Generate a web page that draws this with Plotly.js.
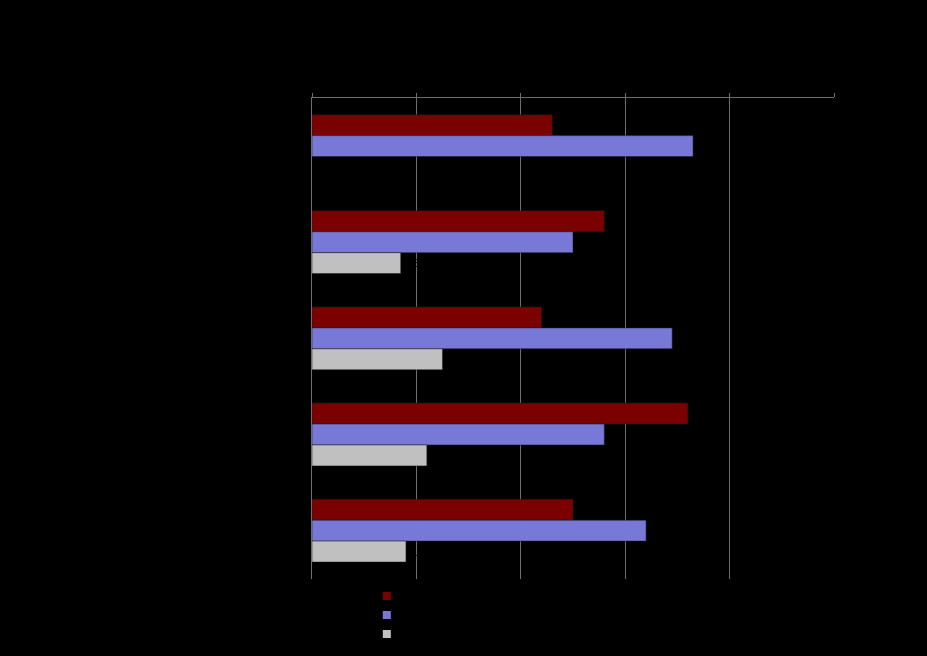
<!doctype html>
<html>
<head>
  <meta charset="utf-8">
  <title>Bar chart</title>
  <script src="https://cdn.plot.ly/plotly-3.0.1.min.js"></script>
  <style>
    body { margin: 0; background-color: black; }
  </style>
</head>
<body>
  <div id="chart" style="width:927px;height:656px;"></div>
  <script>
    // chart data
    var categories = ['Group 1', 'Group 2', 'Group 3', 'Group 4', 'Group 5'];
    var seriesNames = ['Series 1', 'Series 2', 'Series 3'];
    var series1 = [2.3, 2.8, 2.2, 3.6, 2.5];
    var series2 = [3.65, 2.5, 3.45, 2.8, 3.2];
    var series3 = [null, 0.85, 1.25, 1.1, 0.9];
    var xTicks = [0, 1, 2, 3, 4, 5];

    var colors = ['#7b0000', '#7878d6', '#c0c0c0'];
    var allSeries = [series1, series2, series3];

    var data = [];
    allSeries.forEach(function(vals, i) {
      data.push({
        type: 'bar',
        orientation: 'h',
        name: seriesNames[i],
        y: categories,
        x: vals,
        text: vals.map(function(v) { return v == null ? '' : String(v); }),
        textposition: 'outside',
        textfont: { color: '#000000', size: 11 },
        cliponaxis: false,
        marker: { color: colors[i], line: { color: '#1a1a1a', width: 0.5 } },
        showlegend: false
      });
    });

    // legend-only markers (small squares as in the reference)
    seriesNames.forEach(function(name, i) {
      data.push({
        type: 'scatter',
        mode: 'markers',
        name: name,
        x: [null],
        y: [null],
        marker: { symbol: 'square', size: 8, color: colors[i] },
        hoverinfo: 'skip'
      });
    });

    // plot area: x 312..834, y 97..579; bottom margin 0 so legend sits inside paper
    var layout = {
      width: 927,
      height: 656,
      paper_bgcolor: '#000000',
      plot_bgcolor: '#000000',
      font: { family: 'Liberation Sans, Arial', color: '#000000', size: 11 },
      title: { text: 'Chart title', font: { color: '#000000', size: 16 }, y: 0.95 },
      margin: { l: 312, r: 93, t: 98, b: 0 },
      barmode: 'group',
      bargap: 0.347,
      bargroupgap: 0,
      xaxis: {
        side: 'top',
        range: [0, 5],
        tickvals: xTicks,
        showgrid: true,
        gridcolor: '#6e6e6e',
        gridwidth: 1,
        zeroline: false,
        showline: true,
        linecolor: '#6e6e6e',
        ticks: 'outside',
        ticklen: 4,
        tickcolor: '#6e6e6e',
        tickfont: { color: '#000000' },
        automargin: false,
        fixedrange: true
      },
      yaxis: {
        domain: [0.1385, 1],
        autorange: 'reversed',
        showgrid: false,
        zeroline: false,
        showline: true,
        linecolor: '#6e6e6e',
        ticks: '',
        tickfont: { color: '#000000' },
        automargin: false,
        fixedrange: true
      },
      legend: {
        x: 0.105,
        y: 0.1335,
        xanchor: 'left',
        yanchor: 'top',
        bgcolor: 'rgba(0,0,0,0)',
        font: { color: '#000000', size: 10 },
        tracegroupgap: 0
      }
    };

    Plotly.newPlot('chart', data, layout, { displayModeBar: false, staticPlot: true });
  </script>
</body>
</html>
